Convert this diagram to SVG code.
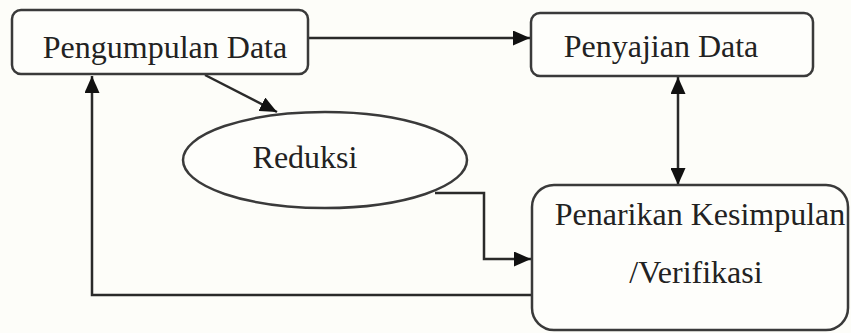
<svg xmlns="http://www.w3.org/2000/svg" width="851" height="333" viewBox="0 0 851 333">
<style>
.box{fill:#fefefb;stroke:#3a3a3a;stroke-width:2.5}
.lbl{font-family:"Liberation Serif","Times New Roman",serif;font-size:32px;fill:#222;text-anchor:middle}
.con{fill:none;stroke:#2a2a2a;stroke-width:2.5}
</style>
<defs>
<marker id="a" viewBox="0 0 10 10" refX="10" refY="5" markerWidth="17" markerHeight="15" markerUnits="userSpaceOnUse" orient="auto-start-reverse" preserveAspectRatio="none">
<path d="M0,0 L10,5 L0,10 z" fill="#111"/>
</marker>
</defs>
<rect width="851" height="333" fill="#fdfdf9"/>
<g id="connectors">
<line class="con" x1="308" y1="38" x2="530" y2="38" marker-end="url(#a)"/>
<line class="con" x1="205" y1="75" x2="277" y2="112" marker-end="url(#a)"/>
<line class="con" x1="678" y1="77" x2="678" y2="185" marker-start="url(#a)" marker-end="url(#a)"/>
<polyline class="con" points="532,295 92,295 92,76" marker-end="url(#a)"/>
<polyline class="con" points="435,193 484,193 484,259 531,259" marker-end="url(#a)"/>
</g>
<g id="pengumpulan">
<rect class="box" x="12" y="10" width="296" height="64" rx="9"/>
<text class="lbl" x="165" y="58">Pengumpulan Data</text>
</g>
<g id="penyajian">
<rect class="box" x="531" y="13" width="282" height="63" rx="9"/>
<text class="lbl" x="661" y="57">Penyajian Data</text>
</g>
<g id="reduksi">
<ellipse class="box" cx="325" cy="160" rx="142" ry="48"/>
<text class="lbl" x="305" y="168">Reduksi</text>
</g>
<g id="penarikan">
<rect class="box" x="532" y="185" width="316" height="145" rx="22"/>
<text class="lbl" x="700" y="225">Penarikan Kesimpulan</text>
<text class="lbl" x="696" y="283">/Verifikasi</text>
</g>
</svg>
